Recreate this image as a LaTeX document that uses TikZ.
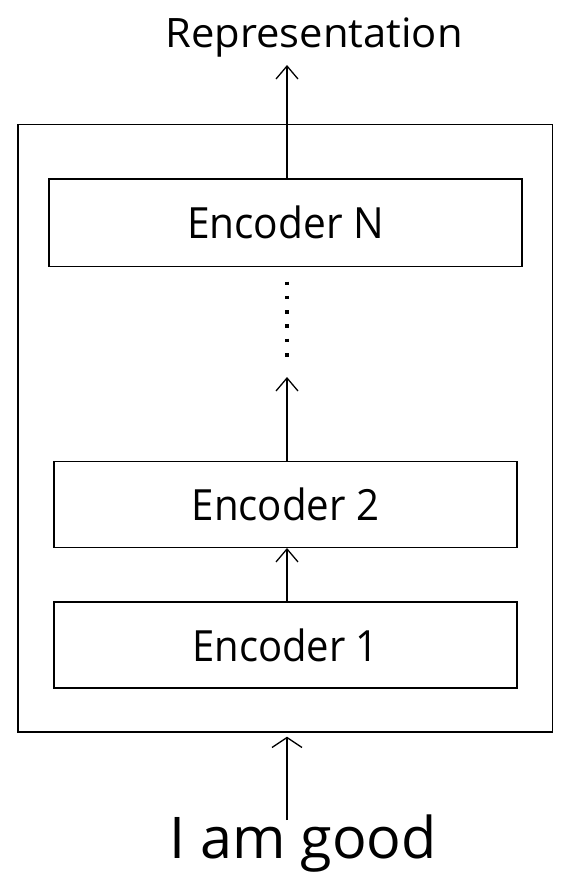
\documentclass[tikz,border=0pt]{standalone}
\usepackage{fontspec}
\setmainfont{Open Sans}
\usetikzlibrary{arrows.meta}
\begin{document}
\begin{tikzpicture}[x=1pt,y=-1pt,
  box/.style={draw,line width=1.4pt,inner sep=0pt},
  enc/.style={box,minimum width=463pt,minimum height=86pt,font=\fontsize{43}{50}\selectfont},
  arr/.style={line width=1.3pt,-{Straight Barb[length=13pt,width=22pt,line width=1.3pt]}},
  dotline/.style={line width=3.6pt,dash pattern=on 3.6pt off 10.7pt}
]
\useasboundingbox (0,0) rectangle (571,876);
\node[box,minimum width=534.5pt,minimum height=607.5pt] (outer) at (285.25,428.25) {};
\node[enc,minimum width=473pt,minimum height=87.5pt] (eN) at (285.5,222.75) {\scalebox{0.945}[1]{Encoder N}};
\node[enc,minimum height=85.5pt] (e2) at (285.5,504.5) {\scalebox{0.935}[1]{Encoder 2}};
\node[enc] (e1) at (285.5,645) {\scalebox{0.93}[1]{Encoder 1}};
\coordinate (ax) at (287,0);
\coordinate (repTip) at (287,65);
\coordinate (dotTop) at (287,281.5);
\coordinate (dotBot) at (287,360);
\coordinate (midTip) at (287,377);
\coordinate (inTail) at (287,820);
\node[anchor=base,font=\fontsize{40.5}{48}\selectfont] (rep) at (314,47.5) {\scalebox{1.03}[1]{Representation}};
\node[anchor=base,font=\fontsize{57.5}{66}\selectfont] (inp) at (303,858) {I am good};
\draw[arr] (eN.north -| ax) -- (repTip);
\draw[dotline] (dotTop) -- (dotBot);
\draw[arr] (e2.north -| ax) -- (midTip);
\draw[arr] (e1.north -| ax) -- (e2.south -| ax);
\draw[line width=1.3pt,-{Straight Barb[length=10pt,width=30pt,line width=1.3pt]}] (inTail) -- ([yshift=-4pt]outer.south -| ax);
\end{tikzpicture}
\end{document}
